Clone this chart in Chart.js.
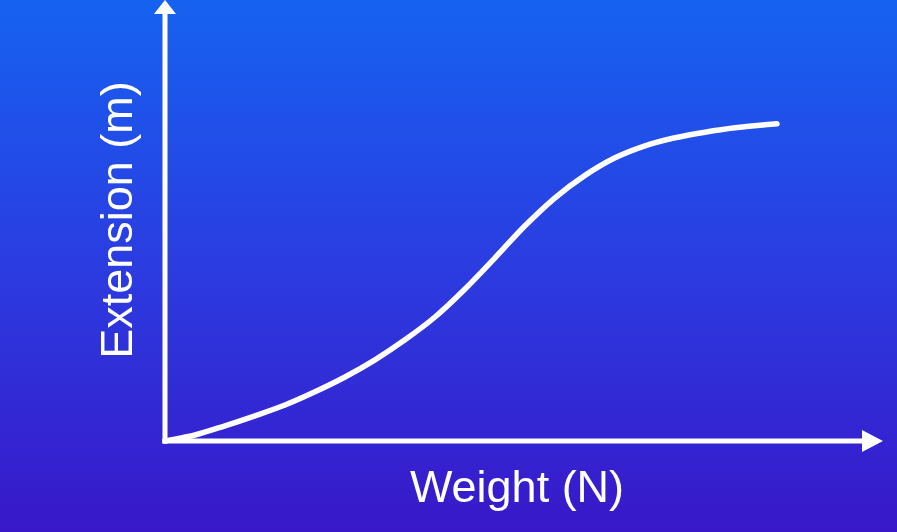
<!DOCTYPE html>
<html>
<head>
<meta charset="utf-8">
<script src="https://cdn.jsdelivr.net/npm/chart.js@4"></script>
<style>
html,body{margin:0;padding:0;background:#2a3ae0;}
#wrap{width:897px;height:532px;position:relative;}
</style>
</head>
<body>
<div id="wrap"><canvas id="c" width="897" height="532"></canvas></div>
<script>
// Data (arbitrary units)
const weights = [0, 0.5, 1, 1.5, 2, 2.5, 3, 3.5, 4, 4.5, 5, 5.5, 6, 6.5, 7, 7.5, 8, 8.5, 9, 9.5, 10.2];
const extensions = [0, 0.15, 0.38, 0.63, 0.90, 1.23, 1.60, 2.03, 2.53, 3.10, 3.80, 4.58, 5.38, 6.08, 6.64, 7.08, 7.38, 7.58, 7.72, 7.83, 7.93];
const xTitle = 'Weight (N)';
const yTitle = 'Extension (m)';

const points = weights.map((w, i) => ({x: w, y: extensions[i]}));

const bgPlugin = {
  id: 'bg',
  beforeDraw(chart) {
    const ctx = chart.ctx;
    const g = ctx.createLinearGradient(0, 0, 0, chart.height);
    g.addColorStop(0, '#1662f1');
    g.addColorStop(0.5, '#2b3ce0');
    g.addColorStop(1, '#3818c9');
    ctx.save();
    ctx.fillStyle = g;
    ctx.fillRect(0, 0, chart.width, chart.height);
    ctx.restore();
  }
};

const axesPlugin = {
  id: 'axesArrows',
  afterDatasetsDraw(chart) {
    const ctx = chart.ctx;
    const a = chart.chartArea;
    const x0 = a.left, y0 = a.bottom;
    ctx.save();
    ctx.strokeStyle = '#ffffff';
    ctx.fillStyle = '#ffffff';
    ctx.lineWidth = 5;
    ctx.lineCap = 'butt';
    // vertical axis
    ctx.beginPath();
    ctx.moveTo(x0, y0 + 2.5);
    ctx.lineTo(x0, a.top + 12);
    ctx.stroke();
    // horizontal axis
    ctx.beginPath();
    ctx.moveTo(x0 - 2.5, y0);
    ctx.lineTo(a.right - 20, y0);
    ctx.stroke();
    // arrowheads
    ctx.beginPath();
    ctx.moveTo(x0, a.top - 1);
    ctx.lineTo(x0 - 11, a.top + 13);
    ctx.lineTo(x0 + 11, a.top + 13);
    ctx.closePath();
    ctx.fill();
    ctx.beginPath();
    ctx.moveTo(a.right - 2, y0);
    ctx.lineTo(a.right - 23, y0 - 11);
    ctx.lineTo(a.right - 23, y0 + 11);
    ctx.closePath();
    ctx.fill();
    // titles
    ctx.font = '45px "Liberation Sans", Arial, sans-serif';
    ctx.textAlign = 'center';
    ctx.textBaseline = 'middle';
    ctx.fillText(xTitle, 517, 490);
    ctx.translate(120, 220);
    ctx.rotate(-Math.PI / 2);
    ctx.fillText(yTitle, 0, 0);
    ctx.restore();
  }
};

new Chart(document.getElementById('c'), {
  type: 'line',
  data: {
    datasets: [{
      data: points,
      borderColor: '#ffffff',
      borderWidth: 5.5,
      pointRadius: 0,
      cubicInterpolationMode: 'monotone',
      borderCapStyle: 'round',
      borderJoinStyle: 'round',
      fill: false,
      clip: false
    }]
  },
  options: {
    responsive: false,
    animation: false,
    layout: {padding: {left: 165, right: 12, top: 1, bottom: 91}},
    plugins: {legend: {display: false}, tooltip: {enabled: false}},
    scales: {
      x: {type: 'linear', min: 0, max: 12, display: false},
      y: {type: 'linear', min: 0, max: 11, display: false}
    }
  },
  plugins: [bgPlugin, axesPlugin]
});
</script>
</body>
</html>
